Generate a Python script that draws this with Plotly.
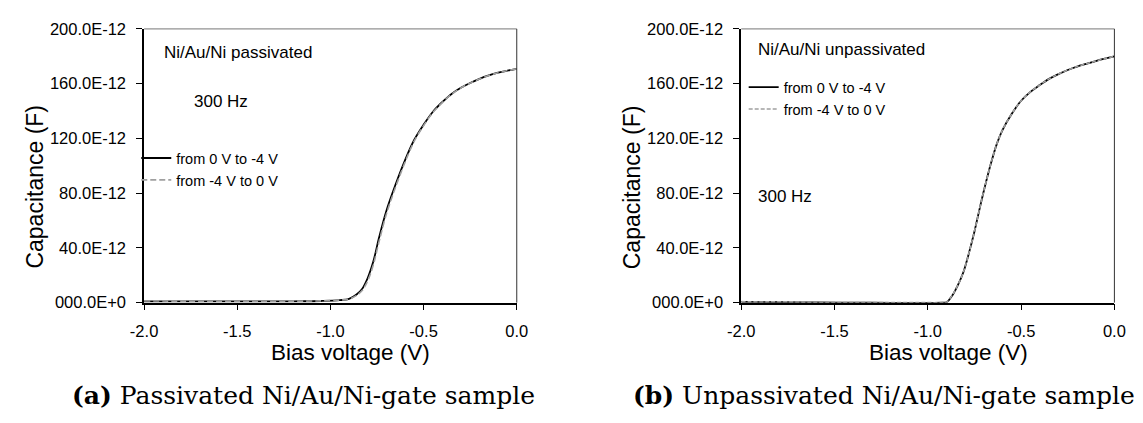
import plotly.graph_objects as go

# ---------------- data (capacitance in pF, voltage in V) ----------------
v_pass_fwd = [-2.0, -1.8, -1.6, -1.4, -1.2, -1.05, -0.95, -0.9, -0.86, -0.83, -0.8, -0.77,
              -0.74, -0.7, -0.65, -0.6, -0.55, -0.5, -0.45, -0.4, -0.35, -0.3, -0.25, -0.2,
              -0.15, -0.1, -0.05, 0.0]
c_pass_fwd = [1.0, 0.9, 0.9, 0.9, 1.0, 1.2, 1.8, 2.8, 6.0, 10.0, 18.0, 30.0,
              47.0, 67.0, 86.5, 104.0, 119.0, 130.0, 139.5, 146.5, 152.5, 157.0, 160.5, 163.5,
              166.0, 168.0, 169.5, 170.8]
v_pass_rev = [-2.0, -1.8, -1.6, -1.4, -1.2, -1.05, -0.95, -0.9, -0.86, -0.83, -0.8, -0.77,
              -0.74, -0.7, -0.65, -0.6, -0.55, -0.5, -0.45, -0.4, -0.35, -0.3, -0.25, -0.2,
              -0.15, -0.1, -0.05, 0.0]
c_pass_rev = [1.2, 1.1, 1.0, 1.0, 1.1, 1.3, 1.9, 2.6, 5.2, 8.8, 16.0, 27.5,
              44.0, 64.5, 84.5, 102.5, 118.0, 129.3, 139.0, 146.2, 152.3, 156.9, 160.4, 163.4,
              166.0, 168.0, 169.5, 170.8]

v_unp_fwd = [-2.0, -1.9, -1.8, -1.6, -1.4, -1.2, -1.0, -0.92, -0.9, -0.87, -0.84, -0.81,
             -0.78, -0.75, -0.72, -0.69, -0.66, -0.63, -0.6, -0.55, -0.5, -0.45, -0.4, -0.35,
             -0.3, -0.25, -0.2, -0.15, -0.1, -0.05, 0.0]
c_unp_fwd = [0.6, 0.4, 0.3, 0.1, 0.0, -0.1, -0.1, 0.0, 0.3, 5.0, 12.5, 22.0,
             36.0, 52.0, 70.0, 87.0, 102.5, 116.0, 126.0, 138.0, 147.5, 154.0, 159.0, 163.5,
             167.0, 170.0, 172.5, 174.5, 176.5, 178.3, 180.0]
v_unp_rev = [-2.0, -1.9, -1.8, -1.6, -1.4, -1.2, -1.0, -0.92, -0.9, -0.87, -0.84, -0.81,
             -0.78, -0.75, -0.72, -0.69, -0.66, -0.63, -0.6, -0.55, -0.5, -0.45, -0.4, -0.35,
             -0.3, -0.25, -0.2, -0.15, -0.1, -0.05, 0.0]
c_unp_rev = [0.8, 0.5, 0.7, 0.2, 0.1, 0.0, 0.0, 0.0, 0.4, 5.2, 12.6, 22.2,
             36.1, 52.1, 70.1, 87.1, 102.6, 116.0, 126.0, 138.0, 147.5, 154.0, 159.0, 163.5,
             167.0, 170.0, 172.5, 174.5, 176.5, 178.3, 180.0]

y_tickvals = [0, 40, 80, 120, 160, 200]
y_ticktext = ["000.0E+0", "40.0E-12", "80.0E-12", "120.0E-12", "160.0E-12", "200.0E-12"]
x_tickvals = [-2.0, -1.5, -1.0, -0.5, 0.0]
x_ticktext = ["-2.0", "-1.5", "-1.0", "-0.5", "0.0"]

name_fwd = "from 0 V to -4 V"
name_rev = "from -4 V to 0 V"

# ---------------- figure ----------------
W, H = 1143, 423
fig = go.Figure()

SANS = "Arial"
SERIF = "DejaVu Serif"

fig.add_trace(go.Scatter(x=v_pass_fwd, y=c_pass_fwd, mode="lines", name=name_fwd,
                         line=dict(color="black", width=1.8, shape="spline"),
                         xaxis="x", yaxis="y", legend="legend"))
fig.add_trace(go.Scatter(x=v_pass_rev, y=c_pass_rev, mode="lines", name=name_rev,
                         line=dict(color="#a0a0a0", width=1.6, dash="6px,3px", shape="spline"),
                         xaxis="x", yaxis="y", legend="legend"))
fig.add_trace(go.Scatter(x=v_unp_fwd, y=c_unp_fwd, mode="lines", name=name_fwd,
                         line=dict(color="black", width=1.8, shape="spline"),
                         xaxis="x2", yaxis="y2", legend="legend2"))
fig.add_trace(go.Scatter(x=v_unp_rev, y=c_unp_rev, mode="lines", name=name_rev,
                         line=dict(color="#a0a0a0", width=1.6, dash="4px,2px", shape="spline"),
                         xaxis="x2", yaxis="y2", legend="legend2"))

# pixel geometry of plot areas
L1, R1 = 133, 514
L2, R2 = 743.5, 1125
TOP, BOT = 20.8, 306.7

def dom_x(a, b):
    return [a / W, b / W]

ydom = [(H - BOT) / H, (H - TOP) / H]

TICKFONT = dict(family=SANS, size=16.5, color="black")
xaxis_common = dict(range=[-2.0, 0.0], tickvals=x_tickvals, ticktext=x_ticktext,
                    ticks="outside", ticklen=6, tickwidth=1, tickcolor="black",
                    showline=True, linecolor="black", linewidth=1.5, showgrid=False,
                    zeroline=False, tickfont=TICKFONT, ticklabelstandoff=7)
yaxis_common = dict(range=[0, 200], tickvals=y_tickvals, ticktext=y_ticktext,
                    ticks="outside", ticklen=6, tickwidth=1, tickcolor="black",
                    showline=True, linecolor="black", linewidth=1.5, showgrid=False,
                    zeroline=False, tickfont=TICKFONT, ticklabelstandoff=7)

LEGFONT = dict(family=SANS, size=14.5, color="black")
fig.update_layout(
    width=W, height=H, margin=dict(l=0, r=0, t=0, b=0),
    paper_bgcolor="white", plot_bgcolor="white",
    xaxis=dict(domain=dom_x(L1, R1), anchor="y", **xaxis_common),
    yaxis=dict(domain=ydom, anchor="x", **yaxis_common),
    xaxis2=dict(domain=dom_x(L2, R2), anchor="y2", **xaxis_common),
    yaxis2=dict(domain=ydom, anchor="x2", **yaxis_common),
    legend=dict(x=125 / W, y=(H - 139) / H, xanchor="left", yanchor="top",
                bgcolor="rgba(0,0,0,0)", font=LEGFONT, itemwidth=30, tracegroupgap=0),
    legend2=dict(x=746 / W, y=(H - 65) / H, xanchor="left", yanchor="top",
                 bgcolor="rgba(0,0,0,0)", font=LEGFONT, itemwidth=30, tracegroupgap=0),
    showlegend=True,
)

# top / right frame lines
for xr, yr in (("x domain", "y domain"), ("x2 domain", "y2 domain")):
    fig.add_shape(type="line", xref=xr, yref=yr, x0=0, x1=1, y0=1, y1=1,
                  line=dict(color="#777", width=1))
    fig.add_shape(type="line", xref=xr, yref=yr, x0=1, x1=1, y0=0, y1=1,
                  line=dict(color="#333", width=1))

def ann(text, x, y, size=17, family=SANS, xanchor="left", angle=0, color="black"):
    fig.add_annotation(text=text, x=x / W, y=(H - y) / H, xref="paper", yref="paper",
                       showarrow=False, xanchor=xanchor, yanchor="middle",
                       textangle=angle, font=dict(family=family, size=size, color=color))

ann("Ni/Au/Ni passivated", 151, 45)
ann("300 Hz", 182, 97)
ann("Ni/Au/Ni unpassivated", 759, 42)
ann("300 Hz", 759, 196)

ann("Capacitance (F)", 22, 186, size=23, xanchor="center", angle=-90)
ann("Capacitance (F)", 632, 186, size=23, xanchor="center", angle=-90)
ann("Bias voltage (V)", 344, 359, size=22.5, xanchor="center")
ann("Bias voltage (V)", 955, 359, size=22.5, xanchor="center")

ann("<b>(a)</b> Passivated Ni/Au/Ni-gate sample", 296, 404, size=25, family=SERIF,
    xanchor="center")
ann("<b>(b)</b> Unpassivated Ni/Au/Ni-gate sample", 889, 404, size=25, family=SERIF,
    xanchor="center")

fig.write_html("out.html")
